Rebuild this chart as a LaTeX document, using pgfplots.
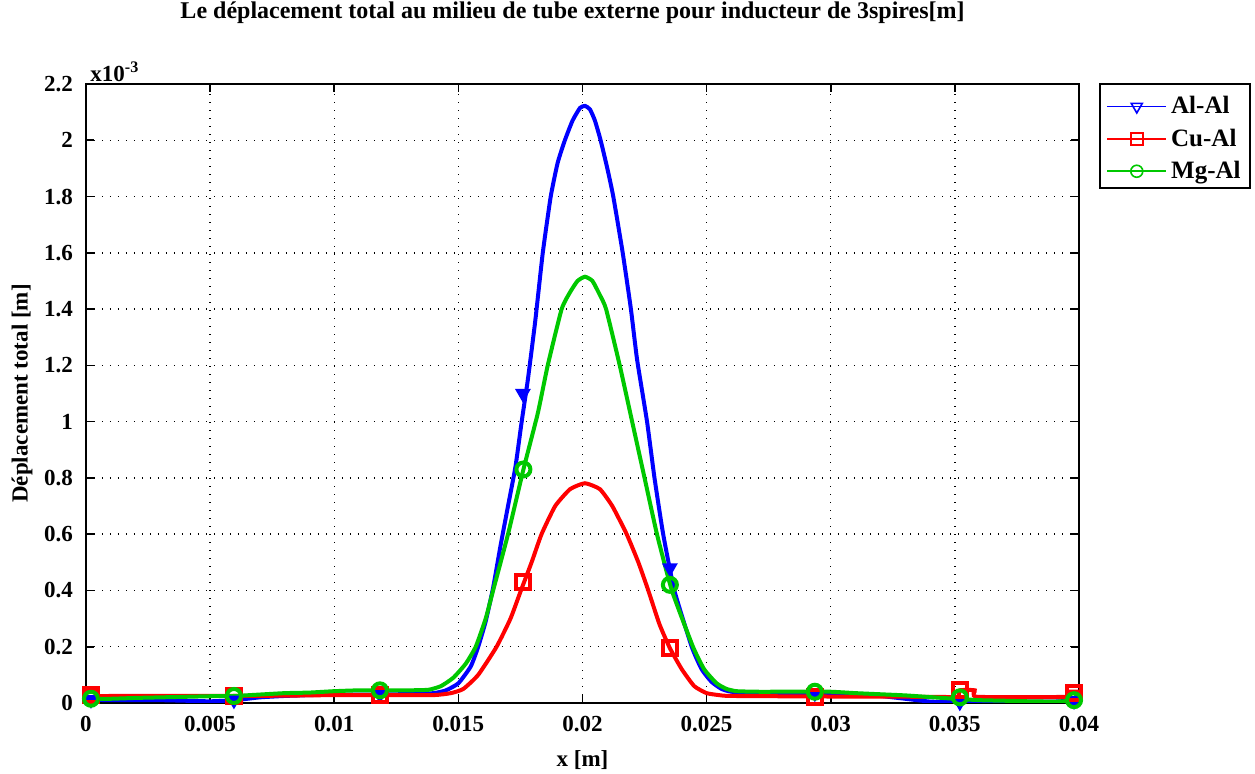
\documentclass[border=0pt]{standalone}
\usepackage{fontspec}
\setmainfont{Liberation Serif}
\usepackage{pgfplots}
\pgfplotsset{compat=1.18}

\definecolor{lineblue}{RGB}{0,0,255}
\definecolor{linered}{RGB}{255,0,0}
\definecolor{linegreen}{RGB}{0,200,0}

\begin{document}
\begin{tikzpicture}
\useasboundingbox (-43pt,-35.5pt) rectangle (584.5pt,351.5pt);
\begin{axis}[
  at={(0,0)}, anchor=south west,
  scale only axis,
  width=496.5pt, height=309.5pt,
  xmin=0, xmax=0.04,
  ymin=0, ymax=2.2,
  xtick={0,0.005,0.01,0.015,0.02,0.025,0.03,0.035,0.04},
  xticklabels={0,0.005,0.01,0.015,0.02,0.025,0.03,0.035,0.04},
  ytick={0,0.2,0.4,0.6,0.8,1,1.2,1.4,1.6,1.8,2,2.2},
  yticklabels={0,0.2,0.4,0.6,0.8,1,1.2,1.4,1.6,1.8,2,2.2},
  scaled x ticks=false, scaled y ticks=false,
  tick align=inside,
  major tick length=4pt,
  tick style={black, line width=0.8pt},
  axis line style={black, line width=1pt},
  tick label style={font=\fontsize{11.5}{13}\selectfont\bfseries},
  xticklabel style={yshift=-3pt},
  yticklabel style={xshift=-3pt},
  grid=major,
  grid style={black, line width=0.7pt, dash pattern=on 0.7pt off 3.3pt},
  title={\fontsize{12}{14}\selectfont\bfseries Le déplacement total au milieu de tube externe pour inducteur de 3spires[m]},
  title style={at={(0.49,1)}, anchor=center, yshift=29.5pt},
  xlabel={\fontsize{11.5}{13}\selectfont\bfseries x [m]},
  ylabel={\fontsize{11.5}{13}\selectfont\bfseries Déplacement total [m]},
  xlabel style={at={(0.5,0)}, anchor=center, yshift=-28.5pt},
  ylabel style={at={(0,0.5)}, anchor=center, yshift=32pt},
  legend style={at={(1,1)}, anchor=north west, xshift=10.5pt, yshift=-1pt,
    draw=none, font=\fontsize{12.5}{14}\selectfont\bfseries,
    inner xsep=3pt, inner ysep=3pt, row sep=2pt},
  legend cell align=left,
  clip=true,
]
% Legend: thin line with an open symbol in its middle.
\addlegendimage{legend image code/.code={
  \draw[lineblue, line width=0.8pt] (0cm,0cm) -- (1.04cm,0cm);
  \draw[lineblue, line width=0.8pt, fill=white] plot[mark=triangle, mark size=3.2pt,
    mark options={rotate=180}] coordinates {(0.52cm,0cm)};}}
\addlegendentry{Al-Al}
\addlegendimage{legend image code/.code={
  \draw[linered, line width=0.8pt] (0cm,0cm) -- (1.04cm,0cm);
  \draw[linered, line width=0.8pt, fill=white] plot[mark=square, mark size=3pt]
    coordinates {(0.52cm,0cm)};}}
\addlegendentry{Cu-Al}
\addlegendimage{legend image code/.code={
  \draw[linegreen, line width=0.8pt] (0cm,0cm) -- (1.04cm,0cm);
  \draw[linegreen, line width=0.8pt, fill=white] plot[mark=o, mark size=3pt]
    coordinates {(0.52cm,0cm)};}}
\addlegendentry{Mg-Al}

% Al-Al
\addplot[lineblue, line width=2pt, smooth, tension=0.3] coordinates {
  (0,0.012) (0.001,0.01) (0.002,0.01) (0.003,0.01) (0.004,0.008) (0.005,0.006)
  (0.006,0.01) (0.007,0.02) (0.008,0.025) (0.009,0.028) (0.010,0.03) (0.011,0.03)
  (0.012,0.03) (0.013,0.032) (0.014,0.035) (0.0145,0.045) (0.015,0.07) (0.0155,0.13)
  (0.0158,0.2) (0.0161,0.29) (0.0164,0.41) (0.0167,0.56) (0.0170,0.70) (0.0173,0.84)
  (0.01755,1.0) (0.0178,1.15) (0.0181,1.36) (0.0184,1.6) (0.01872,1.8) (0.0190,1.92)
  (0.01929,2.0) (0.0196,2.07) (0.0199,2.115) (0.0201,2.122) (0.0203,2.11) (0.0205,2.07)
  (0.02073,2.0) (0.0210,1.9) (0.02124,1.8) (0.02162,1.6) (0.02195,1.4) (0.0222,1.22)
  (0.0226,1.0) (0.0229,0.8) (0.02325,0.6) (0.0237,0.4) (0.0244,0.2) (0.0248,0.12)
  (0.0252,0.075) (0.0256,0.05) (0.026,0.04) (0.027,0.035) (0.028,0.035) (0.029,0.035)
  (0.030,0.035) (0.031,0.032) (0.032,0.025) (0.033,0.015) (0.034,0.005) (0.035,0.003)
  (0.036,0.005) (0.037,0.005) (0.038,0.005) (0.039,0.005) (0.040,0.01)};
\addplot[only marks, lineblue, mark=triangle*, mark size=3.6pt,
  mark options={rotate=180, line width=1pt}] coordinates {
  (0.0002,0.012) (0.00596,0.01) (0.01184,0.03) (0.0176,1.1) (0.02352,0.48)
  (0.02936,0.035) (0.0352,0.003) (0.0398,0.008)};

% Cu-Al
\addplot[linered, line width=2pt, smooth, tension=0.3] coordinates {
  (0,0.045) (0.0004,0.045) (0.0005,0.025) (0.001,0.025) (0.002,0.025) (0.003,0.025)
  (0.004,0.025) (0.005,0.025) (0.006,0.025) (0.008,0.026) (0.010,0.028) (0.012,0.028)
  (0.014,0.028) (0.0147,0.035) (0.0152,0.05) (0.0158,0.1) (0.01654,0.2) (0.0171,0.3)
  (0.01752,0.4) (0.01795,0.5) (0.01835,0.6) (0.0189,0.7) (0.0195,0.76) (0.0201,0.781)
  (0.0207,0.76) (0.0212,0.7) (0.02178,0.6) (0.02225,0.5) (0.02265,0.4) (0.0231,0.28)
  (0.02352,0.195) (0.0240,0.12) (0.0245,0.06) (0.0250,0.035) (0.0255,0.028) (0.026,0.025)
  (0.030,0.023) (0.034,0.022) (0.0351,0.022) (0.0352,0.045) (0.0358,0.045) (0.0359,0.022)
  (0.0395,0.022) (0.0396,0.04) (0.040,0.04)};
\addplot[only marks, linered, mark=square, mark size=3.5pt,
  mark options={line width=2pt}] coordinates {
  (0.0002,0.03) (0.00596,0.025) (0.01184,0.028) (0.0176,0.43) (0.02352,0.195)
  (0.02936,0.023) (0.0352,0.045) (0.0398,0.035)};

% Mg-Al
\addplot[linegreen, line width=2pt, smooth, tension=0.3] coordinates {
  (0,0.015) (0.001,0.015) (0.002,0.018) (0.003,0.02) (0.004,0.022) (0.005,0.024)
  (0.006,0.025) (0.007,0.03) (0.008,0.035) (0.009,0.037) (0.010,0.042) (0.011,0.045)
  (0.012,0.045) (0.013,0.045) (0.0138,0.047) (0.0143,0.06) (0.0148,0.09) (0.0153,0.14)
  (0.0157,0.2) (0.0161,0.3) (0.0164,0.4) (0.0170,0.6) (0.01762,0.83) (0.0182,1.03)
  (0.0186,1.2) (0.01916,1.4) (0.0195,1.46) (0.0198,1.5) (0.0201,1.515) (0.0204,1.5)
  (0.0207,1.45) (0.02095,1.4) (0.0215,1.2) (0.0220,1.0) (0.0225,0.8) (0.0230,0.6)
  (0.0236,0.4) (0.02445,0.2) (0.0249,0.12) (0.0254,0.07) (0.0258,0.05) (0.0262,0.042)
  (0.027,0.04) (0.028,0.04) (0.029,0.04) (0.030,0.04) (0.031,0.035) (0.032,0.031)
  (0.033,0.027) (0.034,0.021) (0.035,0.015) (0.036,0.01) (0.037,0.008) (0.038,0.006)
  (0.039,0.005) (0.0396,0.008) (0.040,0.03)};
\addplot[only marks, linegreen, mark=o, mark size=3.5pt,
  mark options={line width=2pt}] coordinates {
  (0.0002,0.015) (0.00596,0.025) (0.01184,0.045) (0.01762,0.83) (0.02352,0.42)
  (0.02936,0.04) (0.0352,0.02) (0.0398,0.01)};
\end{axis}
% legend frame
\draw[black, line width=1pt] (507pt,257.5pt) rectangle (582pt,309.5pt);
\node[anchor=south west, inner sep=0pt, xshift=2pt, yshift=1pt,
  font=\fontsize{11.5}{13}\selectfont\bfseries]
  at (0pt,309.5pt) {x10\textsuperscript{-3}};
\end{tikzpicture}
\end{document}
